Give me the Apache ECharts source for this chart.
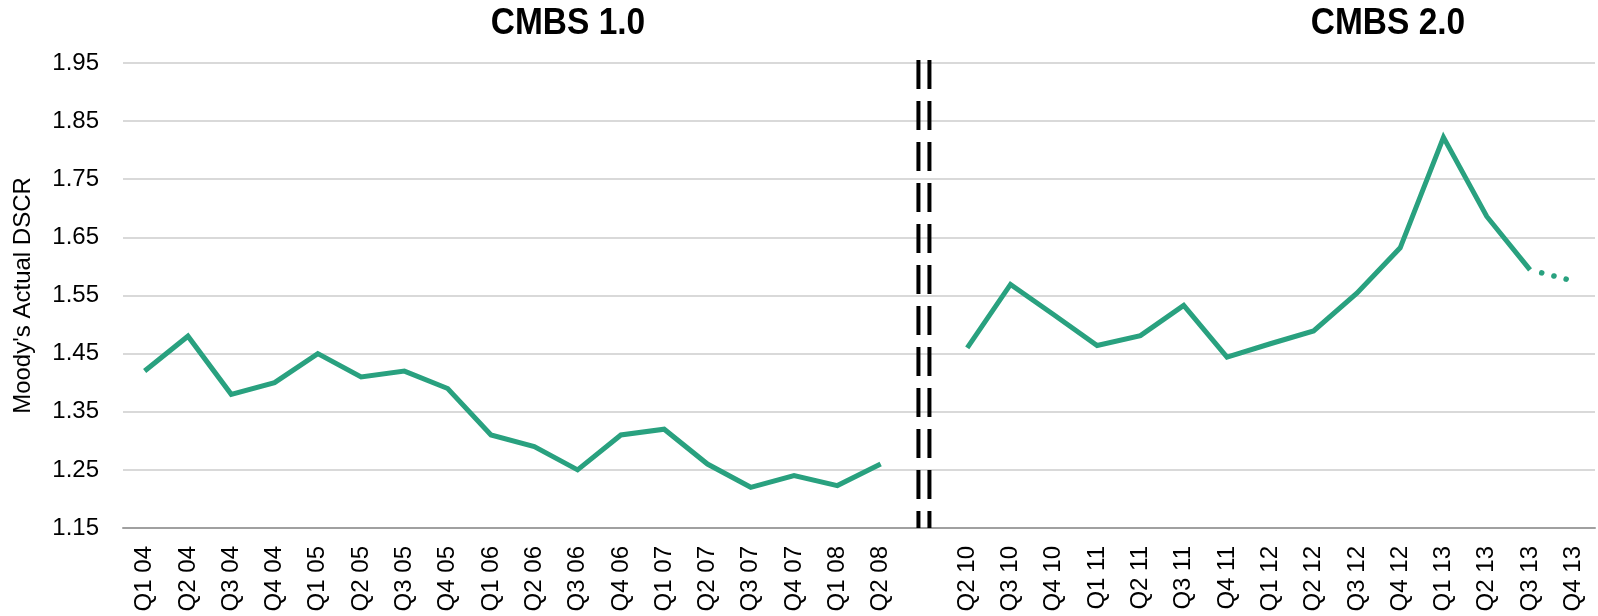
<!DOCTYPE html>
<html>
<head>
<meta charset="utf-8">
<script src="https://cdn.jsdelivr.net/npm/echarts@6/dist/echarts.min.js"></script>
<style>
  html, body { margin: 0; padding: 0; background: #fff; }
  #chart { width: 1598px; height: 616px; }
</style>
</head>
<body>
<div id="chart"></div>
<script>
const quarters = [
  'Q1 04', 'Q2 04', 'Q3 04', 'Q4 04', 'Q1 05', 'Q2 05', 'Q3 05', 'Q4 05', 'Q1 06',
  'Q2 06', 'Q3 06', 'Q4 06', 'Q1 07', 'Q2 07', 'Q3 07', 'Q4 07', 'Q1 08', 'Q2 08',
  '',
  'Q2 10', 'Q3 10', 'Q4 10', 'Q1 11', 'Q2 11', 'Q3 11', 'Q4 11', 'Q1 12', 'Q2 12',
  'Q3 12', 'Q4 12', 'Q1 13', 'Q2 13', 'Q3 13', 'Q4 13',
]

// actual DSCR, gap at the break between the two eras
const dscr = [
  1.42, 1.48, 1.38, 1.40, 1.45, 1.41, 1.42, 1.39, 1.31,
  1.29, 1.25, 1.31, 1.32, 1.26, 1.22, 1.24, 1.223, 1.26,
  null,
  1.46, 1.569, 1.517, 1.464, 1.481, 1.533, 1.444, 1.467, 1.489,
  1.554, 1.632, 1.822, 1.686, 1.594, null,
]

// dotted tail (last reported to estimate)
const projected = [
  null, null, null, null, null, null, null, null, null,
  null, null, null, null, null, null, null, null, null,
  null,
  null, null, null, null, null, null, null, null, null,
  null, null, null, null, 1.594, 1.575,
]

const eraTitles = ['CMBS 1.0', 'CMBS 2.0']
const yTicks = { min: 1.15, max: 1.95, interval: 0.1 }
const breakIndex = 18

const green = '#29a17f'
const font = '\'Liberation Sans\', Arial, sans-serif'

const chart = echarts.init(document.getElementById('chart'))

chart.setOption({
  animation: false,
  grid: {
    left: 123,
    right: 3,
    top: 63,
    bottom: 88,
  },
  xAxis: {
    type: 'category',
    data: quarters,
    boundaryGap: true,
    axisLine: { lineStyle: { color: '#a0a0a0', width: 2 } },
    axisTick: { length: 7, lineStyle: { color: '#a0a0a0', width: 2 } },
    axisLabel: {
      rotate: 90,
      interval: 0,
      margin: 18,
      color: '#000',
      fontFamily: font,
      fontSize: 24,
    },
  },
  yAxis: {
    type: 'value',
    min: yTicks.min,
    max: yTicks.max,
    interval: yTicks.interval,
    name: 'Moody\'s Actual DSCR',
    nameLocation: 'middle',
    nameGap: 88,
    nameTextStyle: { fontFamily: font, fontSize: 24, color: '#000' },
    axisLine: { show: false },
    axisTick: { show: false },
    axisLabel: {
      margin: 24,
      color: '#000',
      fontFamily: font,
      fontSize: 24,
      formatter: v => v.toFixed(2),
    },
    splitLine: { lineStyle: { color: '#d9d9d9', width: 2 } },
  },
  series: [
    {
      name: 'DSCR',
      type: 'line',
      data: dscr,
      showSymbol: false,
      connectNulls: false,
      lineStyle: { color: green, width: 5, join: 'miter' },
    },
    {
      name: 'Estimate',
      type: 'line',
      data: projected,
      showSymbol: false,
      connectNulls: false,
      lineStyle: { color: green, width: 5.5, type: [0.1, 12.5], dashOffset: -12, cap: 'round' },
    },
  ],
})

// era titles centred over each half, squeezed a little like a narrow face
function titleText(text, cx) {
  return {
    type: 'text',
    x: cx,
    y: 6,
    scaleX: 0.93,
    z: 10,
    style: {
      text,
      x: 0,
      y: 0,
      textAlign: 'center',
      textVerticalAlign: 'top',
      fill: '#000',
      font: 'bold 36px ' + font,
    },
  }
}

// double dashed divider between CMBS 1.0 and CMBS 2.0
const midX = chart.convertToPixel({ xAxisIndex: 0 }, breakIndex)
const yTop = 60
const yBottom = chart.convertToPixel({ yAxisIndex: 0 }, yTicks.min)
const dividerStyle = { stroke: '#000', lineWidth: 4, lineDash: [29, 12] }

chart.setOption({
  graphic: [
    titleText(eraTitles[0], 568),
    titleText(eraTitles[1], 1388),
    { type: 'line', shape: { x1: midX - 5.5, y1: yTop, x2: midX - 5.5, y2: yBottom }, style: dividerStyle, z: 10 },
    { type: 'line', shape: { x1: midX + 5.5, y1: yTop, x2: midX + 5.5, y2: yBottom }, style: dividerStyle, z: 10 },
  ],
})
</script>
</body>
</html>
